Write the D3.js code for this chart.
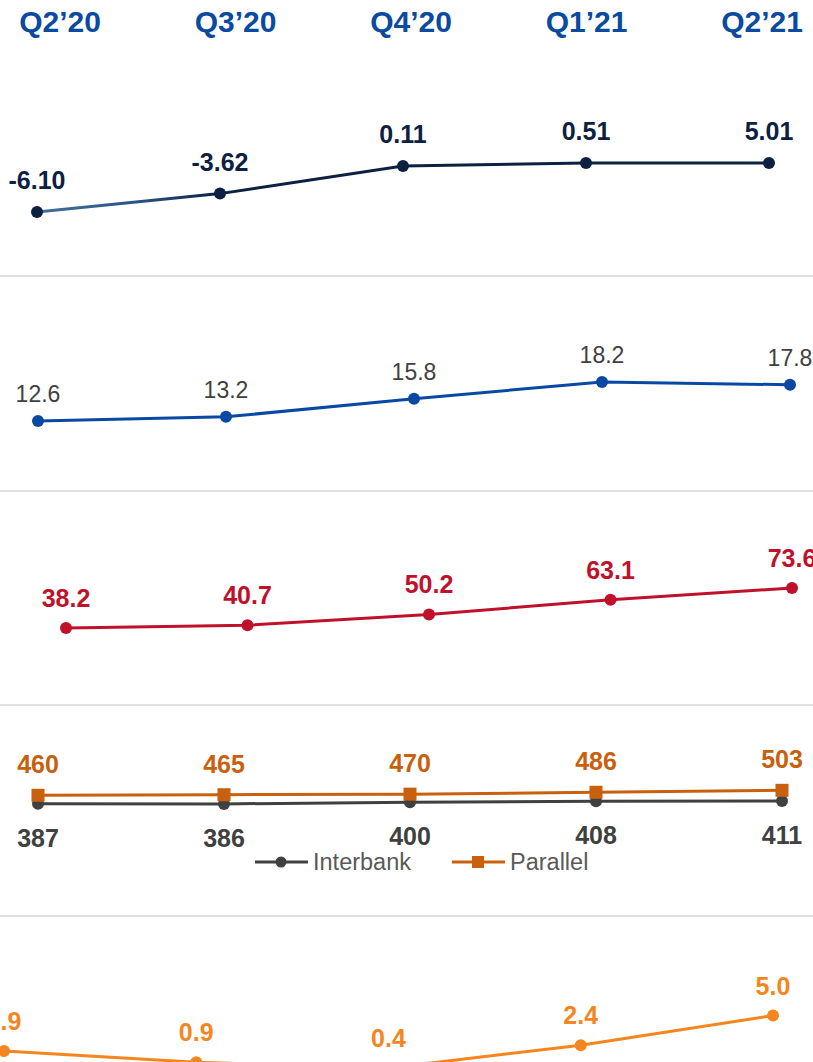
<!DOCTYPE html>
<html>
<head>
<meta charset="utf-8">
<script src="https://cdn.jsdelivr.net/npm/d3@7"></script>
<style>
  html, body { margin: 0; padding: 0; background: #ffffff; }
  svg { display: block; font-family: "Liberation Sans", Arial, sans-serif; }
</style>
</head>
<body>
<svg id="chart" width="813" height="1062"></svg>
<script>
// Quarter headers
const quarters = ["Q2’20", "Q3’20", "Q4’20", "Q1’21", "Q2’21"];

// One series per row
const gdpGrowth    = [-6.10, -3.62, 0.11, 0.51, 5.01];
const inflation    = [12.6, 13.2, 15.8, 18.2, 17.8];
const crudePrice   = [38.2, 40.7, 50.2, 63.1, 73.6];
const interbank    = [387, 386, 400, 408, 411];
const parallel     = [460, 465, 470, 486, 503];
const bottomSeries = [1.9, 0.9, 0.4, 2.4, 5.0];

// Legend entries for the exchange-rate row
const fxLegend = ["Interbank", "Parallel"];

const W = 813, H = 1062;
const svg = d3.select("#chart");

const locale = d3.formatLocale({ decimal: ".", thousands: ",", grouping: [3], currency: ["", ""], minus: "-" });
const f2 = locale.format(".2f"), f1 = locale.format(".1f"), f0 = locale.format("d");

// Header row
const xHead = d3.scalePoint().domain(quarters).range([60, 762]);
svg.append("g").selectAll("text").data(quarters).join("text")
  .attr("x", d => xHead(d)).attr("y", 32)
  .attr("text-anchor", "middle")
  .attr("font-size", 30).attr("font-weight", "bold")
  .attr("fill", "#0a4a9f")
  .text(d => d);

// Row separators
const separators = [276, 491, 705, 916];
svg.append("g").selectAll("line").data(separators).join("line")
  .attr("x1", 0).attr("x2", W).attr("y1", d => d).attr("y2", d => d)
  .attr("stroke", "#c4c4c4").attr("stroke-width", 1.2);

// Generic row drawer
function drawRow(values, opt) {
  const x = d3.scalePoint().domain(quarters).range(opt.xRange);
  const y = opt.y;
  const g = svg.append("g");
  const pts = values.map((v, i) => ({ q: quarters[i], v }));
  const line = d3.line().x(d => x(d.q)).y(d => y(d.v));
  g.append("path").datum(pts)
    .attr("d", line)
    .attr("fill", "none")
    .attr("stroke", opt.lineStroke || opt.color)
    .attr("stroke-width", 3)
    .attr("stroke-linejoin", "round");
  if (opt.marker === "square") {
    g.selectAll("rect").data(pts).join("rect")
      .attr("x", d => x(d.q) - 6.5).attr("y", d => y(d.v) - 6.5)
      .attr("width", 13).attr("height", 13)
      .attr("fill", opt.color);
  } else {
    g.selectAll("circle").data(pts).join("circle")
      .attr("cx", d => x(d.q)).attr("cy", d => y(d.v)).attr("r", 6)
      .attr("fill", opt.color);
  }
  g.selectAll("text").data(pts).join("text")
    .attr("x", d => x(d.q)).attr("y", d => y(d.v) + opt.labelDy)
    .attr("text-anchor", "middle")
    .attr("font-size", opt.fontSize).attr("font-weight", opt.bold ? "bold" : "normal")
    .attr("fill", opt.labelColor || opt.color)
    .text(d => opt.fmt(d.v));
  return { x, y };
}

// Row 1: navy line whose first segment fades in from steel blue
const defs = svg.append("defs");
const x1 = d3.scalePoint().domain(quarters).range([37, 769]);
const grad = defs.append("linearGradient").attr("id", "navyFade")
  .attr("gradientUnits", "userSpaceOnUse")
  .attr("x1", x1(quarters[0])).attr("x2", x1(quarters[1]))
  .attr("y1", 0).attr("y2", 0);
grad.append("stop").attr("offset", 0).attr("stop-color", "#44719f");
grad.append("stop").attr("offset", 0.55).attr("stop-color", "#2b5283");
grad.append("stop").attr("offset", 1).attr("stop-color", "#0c2142");

drawRow(gdpGrowth, {
  xRange: [37, 769],
  y: d3.scaleLinear().domain([-6.10, 0.51]).range([212, 163]).clamp(true),
  color: "#0c2142", lineStroke: "url(#navyFade)",
  labelDy: -23, fontSize: 25, bold: true, fmt: f2
});

// Row 2
drawRow(inflation, {
  xRange: [38, 790],
  y: d3.scaleLinear().domain([12.6, 18.2]).range([421, 382]),
  color: "#0a49a3", labelColor: "#404040",
  labelDy: -19, fontSize: 23, bold: false, fmt: f1
});

// Row 3
drawRow(crudePrice, {
  xRange: [66, 792],
  y: d3.scaleLinear().domain([38.2, 73.6]).range([628, 588]),
  color: "#c0112b",
  labelDy: -21, fontSize: 25, bold: true, fmt: f1
});

// Row 4: two exchange-rate series on a shared scale
const yFx = d3.scaleLinear().domain([386, 503]).range([803.9, 790.3]);
drawRow(interbank, {
  xRange: [38, 782],
  y: yFx, color: "#404040",
  labelDy: 43, fontSize: 25, bold: true, fmt: f0
});
drawRow(parallel, {
  xRange: [38, 782],
  y: yFx, color: "#c8600e", marker: "square",
  labelDy: -22, fontSize: 25, bold: true, fmt: f0
});

// Legend for row 4
const legend = svg.append("g").attr("transform", "translate(0,862)");
const legendItems = [
  { name: fxLegend[0], color: "#404040", marker: "circle", x0: 255 },
  { name: fxLegend[1], color: "#c8600e", marker: "square", x0: 452 }
];
legendItems.forEach(it => {
  legend.append("line").attr("x1", it.x0).attr("x2", it.x0 + 53)
    .attr("y1", 0).attr("y2", 0).attr("stroke", it.color).attr("stroke-width", 3);
  if (it.marker === "circle") {
    legend.append("circle").attr("cx", it.x0 + 26).attr("cy", 0).attr("r", 5.5).attr("fill", it.color);
  } else {
    legend.append("rect").attr("x", it.x0 + 20).attr("y", -6).attr("width", 12).attr("height", 12).attr("fill", it.color);
  }
  legend.append("text").attr("x", it.x0 + 58).attr("y", 8)
    .attr("font-size", 23.5).attr("fill", "#595959").text(it.name);
});

// Row 5 (runs past the bottom edge)
drawRow(bottomSeries, {
  xRange: [4, 773],
  y: d3.scaleLinear().domain([0.4, 5.0]).range([1068, 1015.6]),
  color: "#f5861f",
  labelDy: -21, fontSize: 25, bold: true, fmt: f1
});
</script>
</body>
</html>
